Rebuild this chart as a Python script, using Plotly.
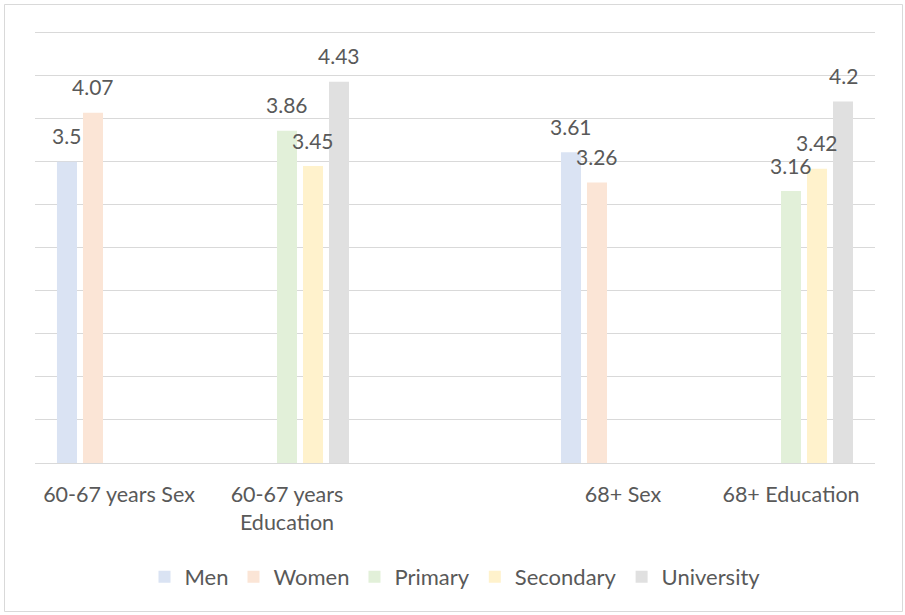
import plotly.graph_objects as go

# Categories (the blank third one keeps the gap between the two age groups)
categories = ["60-67 years Sex", "60-67 years<br>Education", " ", "68+ Sex", "68+ Education"]
series_names = ["Men", "Women", "Primary", "Secondary", "University"]

men = [3.5, None, None, 3.61, None]
women = [4.07, None, None, 3.26, None]
primary = [None, 3.86, None, None, 3.16]
secondary = [None, 3.45, None, None, 3.42]
university = [None, 4.43, None, None, 4.2]

series_values = [men, women, primary, secondary, university]
colors = ["#dae3f3", "#fbe5d6", "#e2f0d9", "#fff2cc", "#e0e0e0"]

W, H = 905, 615
ML, MR, MT, MB = 35, 30, 31, 152
PW, PH = W - ML - MR, H - MT - MB
YMAX = 5.02
BARGAP = 0.226
GROUPGAP = 0.23
FONT = "Lato"
TEXT = "#595959"

fig = go.Figure()
for name, vals, col in zip(series_names, series_values, colors):
    fig.add_trace(go.Bar(x=categories, y=vals, name=name, marker_color=col,
                         marker_line_width=0))

# value labels centred over each bar
n = len(series_names)
slot = (1 - BARGAP) / n
annotations = []
for i, vals in enumerate(series_values):
    for j, v in enumerate(vals):
        if v is None:
            continue
        annotations.append(dict(
            x=j + (i - (n - 1) / 2) * slot, y=v, xref="x", yref="y",
            text=f"{v:g}", showarrow=False, yanchor="middle", yshift=26,
            font=dict(family=FONT, size=21, color=TEXT)))

# thin frame around the whole chart area
frame = dict(type="rect", xref="paper", yref="paper",
             x0=(4.5 - ML) / PW, x1=(902.5 - ML) / PW,
             y0=-(611.5 - (H - MB)) / PH, y1=1 + (MT - 4.5) / PH,
             line=dict(color="#d9d9d9", width=1))

fig.update_layout(
    width=W, height=H,
    margin=dict(l=ML, r=MR, t=MT, b=MB),
    paper_bgcolor="white", plot_bgcolor="white",
    barmode="group", bargap=BARGAP, bargroupgap=GROUPGAP,
    font=dict(family=FONT, size=21, color=TEXT),
    showlegend=True,
    legend=dict(orientation="h", x=0.5, xanchor="center",
                y=-(577 - (H - MB)) / PH, yanchor="middle",
                font=dict(family=FONT, size=22, color=TEXT), itemclick=False),
    annotations=annotations,
    shapes=[frame],
)
fig.update_xaxes(showgrid=False, showline=True, linecolor="#d9d9d9", linewidth=1,
                 ticks="", tickfont=dict(family=FONT, size=21.5, color=TEXT),
                 ticklabelstandoff=12)
fig.update_yaxes(range=[0, YMAX], tick0=0, dtick=0.5, showgrid=True,
                 gridcolor="#d9d9d9", gridwidth=1,
                 showticklabels=False, zeroline=False, showline=False, fixedrange=True)

fig.write_html("out.html")
